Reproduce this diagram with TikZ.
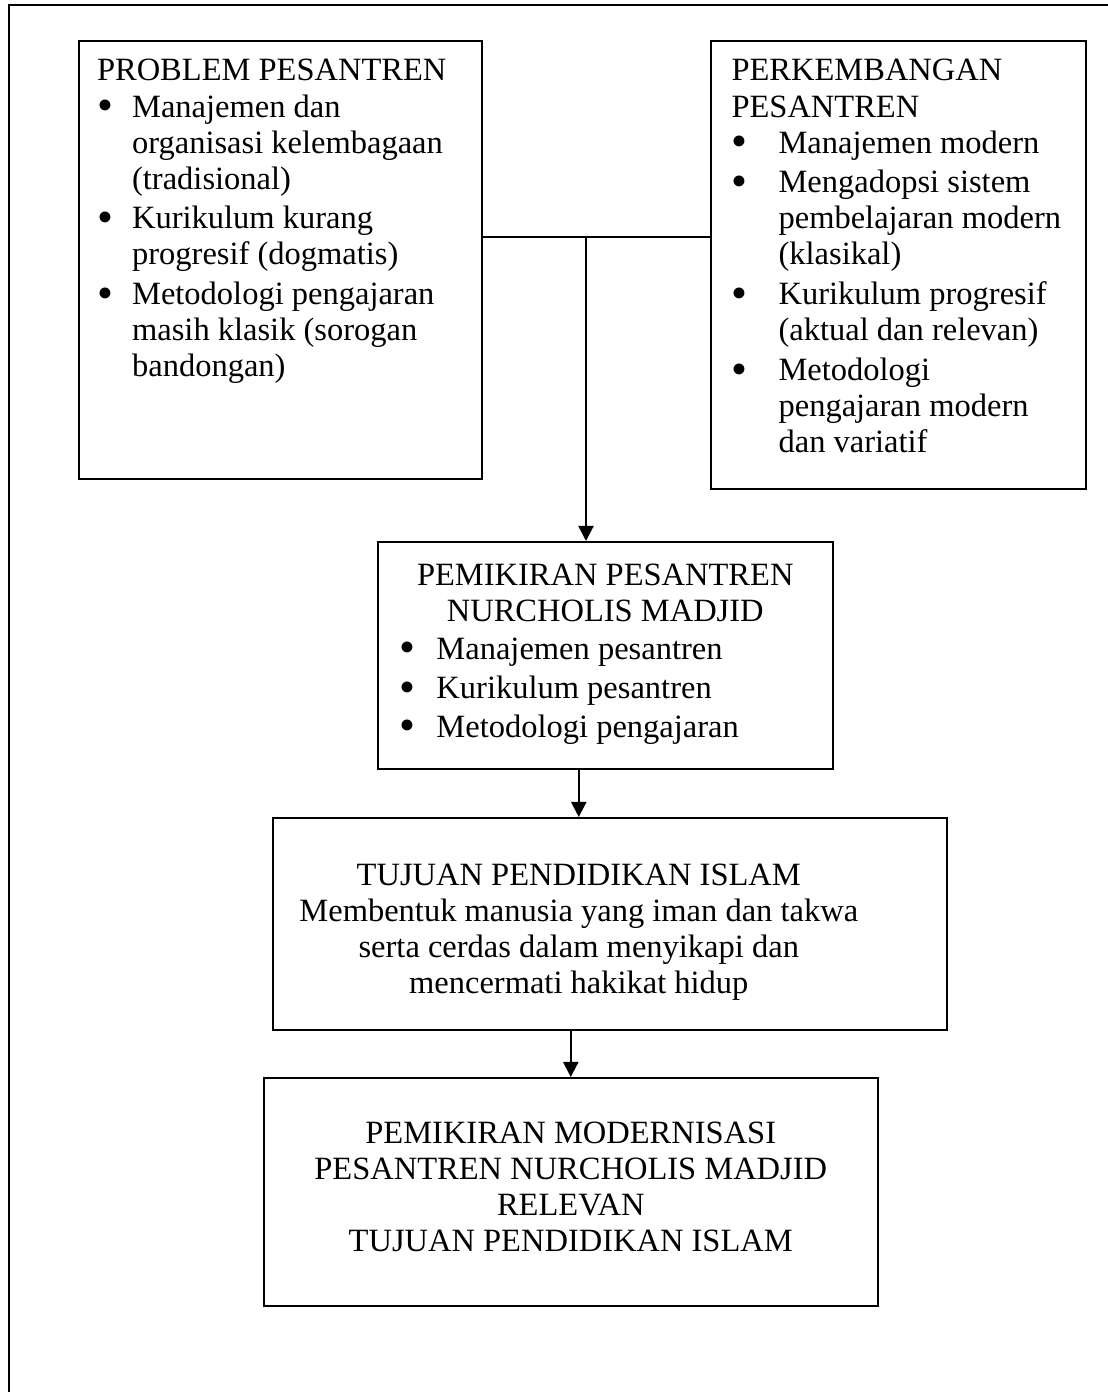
\documentclass[tikz,border=0pt]{standalone}
\usepackage{fontspec}
\setmainfont{Liberation Serif}
\usetikzlibrary{arrows.meta,positioning}
\newcommand{\pxs}{0.3846pt}
\newcommand{\bul}{\smash{\raisebox{-1.3pt}{\scalebox{1.4}{\textbullet}}}}

\begin{document}
\begin{tikzpicture}[
  x=\pxs, y=-\pxs,
  font=\fontsize{12.5pt}{13.85pt}\selectfont,
  box/.style={draw, line width=0.6pt, inner sep=0pt, anchor=north west},
  txt/.style={inner sep=0pt, anchor=base west},
  ctxt/.style={inner sep=0pt, anchor=base},
  conn/.style={line width=0.75pt},
  arr/.style={-{Triangle[width=5.8pt,length=5.8pt]}, line width=0.75pt},
  frame/.style={line width=0.8pt}
]
\useasboundingbox (0,0) rectangle (1108,1392);
\draw[frame] (1108,5) -- (9,5) -- (9,1392);

% boxes
\node[box, minimum width=403*\pxs, minimum height=438*\pxs] (prob) at (78,40) {};
\node[box, minimum width=375*\pxs, minimum height=448*\pxs] (perk) at (710,40) {};
\node[box, minimum width=455*\pxs, minimum height=227*\pxs] (pem) at (377,541) {};
\node[box, minimum width=674*\pxs, minimum height=212*\pxs] (tuj) at (272,817) {};
\node[box, minimum width=614*\pxs, minimum height=228*\pxs] (mod) at (263,1077) {};

% texts
\node[txt] (probtxt) at ([shift={(18.5,41)}]prob.north west) {%
\begin{tabular}[t]{@{}p{13.5pt}@{}l@{}}
\multicolumn{2}{@{}l@{}}{PROBLEM PESANTREN}\\
\bul & Manajemen dan\\
 & organisasi kelembagaan\\
 & (tradisional)\\[1.5pt]
\bul & Kurikulum kurang\\
 & progresif (dogmatis)\\[1.5pt]
\bul & Metodologi pengajaran\\
 & masih klasik (sorogan\\
 & bandongan)
\end{tabular}};
\node[txt] (perktxt) at ([shift={(21,41)}]perk.north west) {%
\begin{tabular}[t]{@{}p{18.1pt}@{}l@{}}
\multicolumn{2}{@{}l@{}}{PERKEMBANGAN}\\
\multicolumn{2}{@{}l@{}}{PESANTREN}\\
\bul & Manajemen modern\\[1.5pt]
\bul & Mengadopsi sistem\\
 & pembelajaran modern\\
 & (klasikal)\\[1.5pt]
\bul & Kurikulum progresif\\
 & (aktual dan relevan)\\[1.5pt]
\bul & Metodologi\\
 & pengajaran modern\\
 & dan variatif
\end{tabular}};
\node[ctxt] (pemtitle) at ([shift={(0,44)}]pem.north) {%
\begin{tabular}[t]{@{}c@{}}
PEMIKIRAN PESANTREN\\
NURCHOLIS MADJID
\end{tabular}};
\node[txt] (pemlist) at ([shift={(21.5,118)}]pem.north west) {%
\begin{tabular}[t]{@{}p{14.4pt}@{}l@{}}
\bul & Manajemen pesantren\\[1.5pt]
\bul & Kurikulum pesantren\\[0.8pt]
\bul & Metodologi pengajaran
\end{tabular}};
\node[ctxt] (tujtxt) at ([shift={(-31,68)}]tuj.north) {%
\begin{tabular}[t]{@{}c@{}}
TUJUAN PENDIDIKAN ISLAM\\
Membentuk manusia yang iman dan takwa\\
serta cerdas dalam menyikapi dan\\
mencermati hakikat hidup
\end{tabular}};
\node[ctxt] (modtxt) at ([shift={(0,66)}]mod.north) {%
\begin{tabular}[t]{@{}c@{}}
PEMIKIRAN MODERNISASI\\
PESANTREN NURCHOLIS MADJID\\
RELEVAN\\
TUJUAN PENDIDIKAN ISLAM
\end{tabular}};

% connectors
\coordinate (jn) at (586,237);
\draw[conn] (prob.east |- jn) -- (perk.west |- jn);
\draw[arr] (jn) -- (jn |- pem.north);
\draw[arr] (pem.south -| tujtxt) -- (tuj.north -| tujtxt);
\draw[arr] (tuj.south -| mod) -- (mod.north);
\end{tikzpicture}
\end{document}
